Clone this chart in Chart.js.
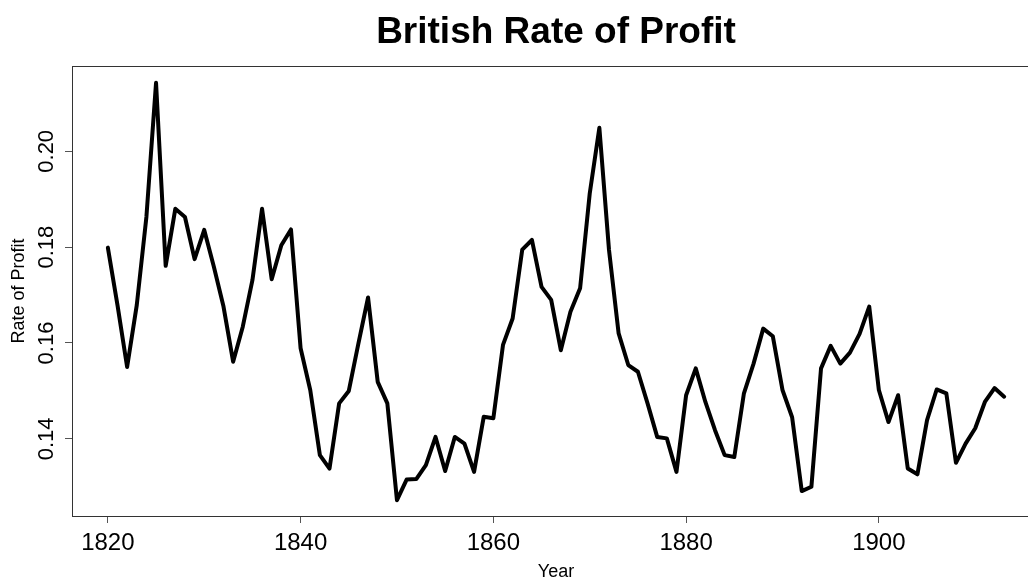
<!DOCTYPE html>
<html>
<head>
<meta charset="utf-8">
<title>British Rate of Profit</title>
<script src="https://cdn.jsdelivr.net/npm/chart.js@4/dist/chart.umd.min.js"></script>
<style>
  html, body { margin: 0; padding: 0; background: #fff; overflow: hidden; }
  #wrap { width: 1028px; height: 582px; overflow: hidden; }
</style>
</head>
<body>
<div id="wrap"><canvas id="chart" width="1045" height="582"></canvas></div>
<script>
// years and rate of profit
const years = [
  1820, 1821, 1822, 1823, 1824, 1825, 1826, 1827, 1828, 1829,
  1830, 1831, 1832, 1833, 1834, 1835, 1836, 1837, 1838, 1839,
  1840, 1841, 1842, 1843, 1844, 1845, 1846, 1847, 1848, 1849,
  1850, 1851, 1852, 1853, 1854, 1855, 1856, 1857, 1858, 1859,
  1860, 1861, 1862, 1863, 1864, 1865, 1866, 1867, 1868, 1869,
  1870, 1871, 1872, 1873, 1874, 1875, 1876, 1877, 1878, 1879,
  1880, 1881, 1882, 1883, 1884, 1885, 1886, 1887, 1888, 1889,
  1890, 1891, 1892, 1893, 1894, 1895, 1896, 1897, 1898, 1899,
  1900, 1901, 1902, 1903, 1904, 1905, 1906, 1907, 1908, 1909,
  1910, 1911, 1912, 1913
];
const profitRate = [
  0.1799, 0.1679, 0.1550, 0.1679, 0.1863, 0.2143, 0.1761, 0.1880, 0.1863, 0.1775,
  0.1836, 0.1759, 0.1676, 0.1561, 0.1634, 0.1731, 0.1880, 0.1733, 0.1804, 0.1837,
  0.1589, 0.1502, 0.1366, 0.1338, 0.1474, 0.1500, 0.1599, 0.1695, 0.1519, 0.1474,
  0.1272, 0.1315, 0.1316, 0.1345, 0.1404, 0.1333, 0.1404, 0.1390, 0.1331, 0.1446,
  0.1443, 0.1596, 0.1651, 0.1795, 0.1815, 0.1717, 0.1690, 0.1585, 0.1665, 0.1714,
  0.1912, 0.2049, 0.1794, 0.1620, 0.1554, 0.1540, 0.1474, 0.1404, 0.1401, 0.1331,
  0.1491, 0.1547, 0.1477, 0.1418, 0.1366, 0.1362, 0.1495, 0.1557, 0.1630, 0.1614,
  0.1502, 0.1445, 0.1291, 0.1300, 0.1547, 0.1594, 0.1557, 0.1580, 0.1619, 0.1676,
  0.1502, 0.1435, 0.1491, 0.1338, 0.1326, 0.1439, 0.1503, 0.1495, 0.1350, 0.1390,
  0.1422, 0.1477, 0.1506, 0.1488
];
const xTicks = [1820, 1840, 1860, 1880, 1900];
const yTicks = [0.14, 0.16, 0.18, 0.20];
const yTickLabels = ["0.14", "0.16", "0.18", "0.20"];

// R style 4% range extension
const xMin = 1816.28, xMax = 1916.72;
const yMin = 0.1239, yMax = 0.2178;

const points = years.map((y, i) => ({ x: y, y: profitRate[i] }));

// box round the plot region (R's box())
const frame = {
  id: "frame",
  afterDraw(chart) {
    const { ctx, chartArea: a } = chart;
    ctx.save();
    ctx.strokeStyle = "#333";
    ctx.lineWidth = 1;
    ctx.strokeRect(a.left + 0.5, a.top + 0.5, a.right - a.left, a.bottom - a.top);
    ctx.restore();
  }
};

// y tick labels run vertically, like R's las = 0
const rotatedYLabels = {
  id: "rotatedYLabels",
  afterDraw(chart) {
    const { ctx } = chart;
    const scale = chart.scales.y;
    ctx.save();
    ctx.fillStyle = "#000";
    ctx.font = "22px 'Liberation Sans', Arial, sans-serif";
    ctx.textAlign = "center";
    ctx.textBaseline = "middle";
    yTicks.forEach((v, i) => {
      const py = scale.getPixelForValue(v);
      ctx.save();
      ctx.translate(47, py);
      ctx.rotate(-Math.PI / 2);
      ctx.fillText(yTickLabels[i], 0, 0);
      ctx.restore();
    });
    ctx.restore();
  }
};

new Chart(document.getElementById("chart"), {
  type: "line",
  data: {
    datasets: [{
      data: points,
      borderColor: "#000",
      borderWidth: 4,
      borderJoinStyle: "round",
      borderCapStyle: "round",
      pointRadius: 0,
      tension: 0,
      fill: false
    }]
  },
  options: {
    responsive: false,
    animation: false,
    devicePixelRatio: 1,
    layout: { padding: { left: 0, right: 5, top: 0, bottom: 0 } },
    plugins: {
      legend: { display: false },
      tooltip: { enabled: false },
      title: {
        display: true,
        fullSize: false,
        text: "British Rate of Profit",
        color: "#000",
        font: { family: "'Liberation Sans', Arial, sans-serif", size: 37, weight: "bold", lineHeight: 1 },
        padding: { top: 14, bottom: 15 }
      }
    },
    scales: {
      x: {
        type: "linear",
        min: xMin,
        max: xMax,
        afterBuildTicks: (s) => { s.ticks = xTicks.map(v => ({ value: v })); },
        afterFit: (s) => { s.height = 66; },
        ticks: {
          color: "#000",
          padding: 6,
          maxRotation: 0,
          font: { family: "'Liberation Sans', Arial, sans-serif", size: 24 },
          callback: (v) => String(v)
        },
        grid: { drawOnChartArea: false, drawTicks: true, tickLength: 7, color: "#555" },
        border: { display: true, color: "#333", width: 1 },
        title: {
          display: true,
          text: "Year",
          color: "#000",
          font: { family: "'Liberation Sans', Arial, sans-serif", size: 18, lineHeight: 1 },
          padding: { top: 0, bottom: 1 }
        }
      },
      y: {
        type: "linear",
        min: yMin,
        max: yMax,
        afterBuildTicks: (s) => { s.ticks = yTicks.map(v => ({ value: v })); },
        afterFit: (s) => { s.width = 72; },
        ticks: { display: false },
        grid: { drawOnChartArea: false, drawTicks: true, tickLength: 7, color: "#555" },
        border: { display: true, color: "#333", width: 1 },
        title: {
          display: true,
          text: "Rate of Profit",
          color: "#000",
          font: { family: "'Liberation Sans', Arial, sans-serif", size: 18, lineHeight: 1.2 },
          padding: { top: 8, bottom: 0 }
        }
      }
    }
  },
  plugins: [frame, rotatedYLabels]
});
</script>
</body>
</html>
